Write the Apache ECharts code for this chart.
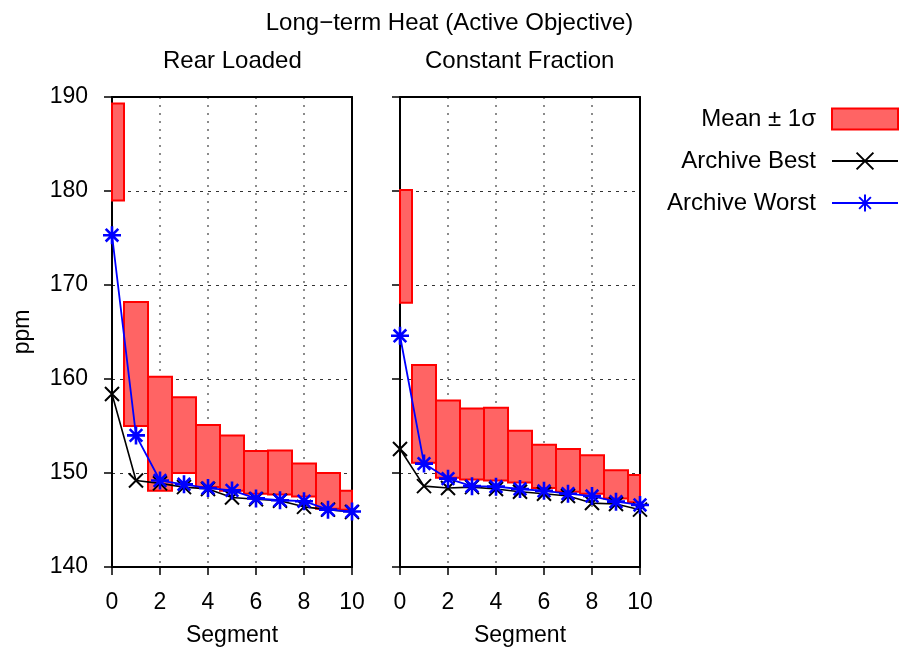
<!DOCTYPE html>
<html>
<head>
<meta charset="utf-8">
<script src="https://cdn.jsdelivr.net/npm/echarts@6/dist/echarts.min.js"></script>
<style>html,body{margin:0;padding:0;background:#fff}#c{width:899px;height:652px}</style>
</head>
<body>
<div id="c"></div>
<script>
const segments = [0,1,2,3,4,5,6,7,8,9,10];
const xTicks = [0,2,4,6,8,10];
const yTicks = [140,150,160,170,180,190];

const rearLow   = [179.0, 155.0, 148.1, 150.0, 148.5, 148.1, 147.8, 147.7, 147.5, 146.2, 146.1];
const rearHigh  = [189.3, 168.2, 160.25, 158.05, 155.1, 154.0, 152.35, 152.4, 151.0, 150.0, 148.1];
const rearBest  = [158.4, 149.2, 148.9, 148.5, 148.3, 147.4, 147.2, 147.05, 146.4, 146.1, 145.85];
const rearWorst = [175.3, 154.0, 149.2, 148.8, 148.4, 148.15, 147.3, 147.1, 147.0, 146.1, 145.9];

const constLow   = [168.1, 151.1, 149.5, 149.3, 149.2, 149.0, 148.4, 148.0, 147.8, 147.3, 146.9];
const constHigh  = [180.1, 161.5, 157.7, 156.85, 156.95, 154.5, 153.0, 152.55, 151.9, 150.3, 149.8];
const constBest  = [152.55, 148.6, 148.4, 148.5, 148.3, 148.0, 147.8, 147.55, 146.8, 146.7, 146.1];
const constWorst = [164.6, 151.0, 149.4, 148.6, 148.55, 148.3, 148.1, 147.8, 147.55, 146.95, 146.6];

const FONT = 'Liberation Sans';
const FS = 23;
const FT = 24;
const XMIN = 0, XMAX = 10;

function bandData(lo, hi){ return segments.map((s,i)=>[s, lo[i], hi[i]]); }
function lineData(v){ return segments.map((s,i)=>[s, v[i]]); }

function renderBand(params, api){
  const s = api.value(0), lo = api.value(1), hi = api.value(2);
  const x0 = Math.max(XMIN, s - 0.5), x1 = Math.min(XMAX, s + 0.5);
  const p0 = api.coord([x0, hi]);
  const p1 = api.coord([x1, lo]);
  return {
    type: 'rect',
    shape: {x: p0[0], y: p0[1], width: p1[0]-p0[0], height: p1[1]-p0[1]},
    style: {fill: '#ff6464', stroke: '#ff0000', lineWidth: 2}
  };
}

const X_SYM = 'path://M0,0L10,10M10,0L0,10';
const STAR_SYM = 'path://M5,0L5,10M0,5L10,5M1.5,1.5L8.5,8.5M8.5,1.5L1.5,8.5';

function makeX(idx, pos){
  const top = pos === 'top';
  return {
    gridIndex: idx, type: 'value', min: XMIN, max: XMAX, interval: 2, position: pos || 'bottom',
    name: top ? '' : 'Segment', nameLocation: 'middle', nameGap: 57,
    nameTextStyle: {fontFamily: FONT, fontSize: FS, color: '#000'},
    axisLine: {show: true, onZero: false, lineStyle: {color: '#000', width: 2}},
    axisTick: {show: !top, inside: false, length: 8, lineStyle: {color: '#000', width: 1.5}},
    axisLabel: {show: !top, margin: 24, fontFamily: FONT, fontSize: FS, color: '#000'},
    splitLine: {show: !top, showMinLine: false, showMaxLine: false, lineStyle: {color: '#666', type: [2,6], width: 1.5}}
  };
}
function makeY(idx, showLabels, pos){
  const right = pos === 'right';
  return {
    gridIndex: idx, type: 'value', min: 140, max: 190, interval: 10, position: pos || 'left',
    name: (showLabels && !right) ? 'ppm' : '', nameLocation: 'middle', nameGap: 78,
    nameTextStyle: {fontFamily: FONT, fontSize: FS, color: '#000'},
    axisLine: {show: true, onZero: false, lineStyle: {color: '#000', width: 2}},
    axisTick: {show: !right, inside: false, length: 8, lineStyle: {color: '#000', width: 1.5}},
    axisLabel: {show: showLabels && !right, margin: 24, fontFamily: FONT, fontSize: FS, color: '#000'},
    splitLine: {show: !right, showMinLine: false, showMaxLine: false, lineStyle: {color: '#333', type: [3,5], width: 1.2}}
  };
}

function bandSeries(name, idx, lo, hi){
  return {
    name: name, type: 'custom', xAxisIndex: idx, yAxisIndex: idx,
    renderItem: renderBand, data: bandData(lo, hi),
    encode: {x: 0, y: [1,2]},
    itemStyle: {color: '#ff6464', borderColor: '#ff0000', borderWidth: 2},
    z: 1, silent: true
  };
}
function lineSeries(name, idx, vals, color, sym, size, bw, lw, z){
  return {
    name: name, type: 'line', xAxisIndex: idx, yAxisIndex: idx,
    data: lineData(vals), symbol: sym, symbolSize: size, showAllSymbol: true,
    lineStyle: {color: color, width: lw},
    itemStyle: {color: color, borderColor: color, borderWidth: bw},
    z: z, silent: true, animation: false
  };
}

const chart = echarts.init(document.getElementById('c'), null, {renderer: 'canvas'});
chart.setOption({
  animation: false,
  backgroundColor: '#fff',
  title: {
    text: 'Long\u2212term Heat (Active Objective)', left: 'center', top: 6,
    textStyle: {fontFamily: FONT, fontSize: FT, fontWeight: 'normal', color: '#000'}
  },
  graphic: [
    {type: 'text', left: 232 - 69, top: 49, style: {text: 'Rear Loaded', font: FT+'px "'+FONT+'"', fill: '#000'}},
    {type: 'text', left: 425, top: 49, style: {text: 'Constant Fraction', font: FT+'px "'+FONT+'"', fill: '#000'}}
  ],
  legend: {
    orient: 'vertical', right: 0, top: 107, align: 'right', padding: 0,
    itemWidth: 66, itemHeight: 21, itemGap: 18,
    textStyle: {fontFamily: FONT, fontSize: FT, color: '#000', padding: [0, 11, 0, 0]},
    data: [
      {name: 'Mean \u00b1 1\u03c3', icon: 'rect', itemStyle: {color: '#ff6464', borderColor: '#ff0000', borderWidth: 2}},
      {name: 'Archive Best'},
      {name: 'Archive Worst'}
    ],
    selectedMode: false
  },
  grid: [
    {left: 112, top: 97, width: 240, height: 470, show: false},
    {left: 400, top: 97, width: 240, height: 470, show: false}
  ],
  xAxis: [makeX(0), makeX(1), makeX(0, 'top'), makeX(1, 'top')],
  yAxis: [makeY(0, true), makeY(1, false), makeY(0, false, 'right'), makeY(1, false, 'right')],
  series: [
    bandSeries('Mean \u00b1 1\u03c3', 0, rearLow, rearHigh),
    lineSeries('Archive Best', 0, rearBest, '#000000', X_SYM, 14, 2, 1.6, 3),
    lineSeries('Archive Worst', 0, rearWorst, '#0000ff', STAR_SYM, 18, 2.6, 1.8, 4),
    bandSeries('Mean \u00b1 1\u03c3', 1, constLow, constHigh),
    lineSeries('Archive Best', 1, constBest, '#000000', X_SYM, 14, 2, 1.6, 3),
    lineSeries('Archive Worst', 1, constWorst, '#0000ff', STAR_SYM, 18, 2.6, 1.8, 4)
  ]
});
</script>
</body>
</html>
